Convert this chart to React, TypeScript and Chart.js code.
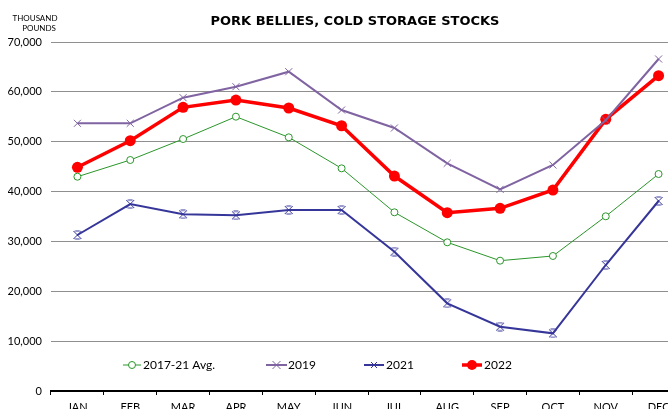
import React, { useEffect, useRef } from 'react';
import { Chart, registerables } from 'chart.js';

Chart.register(...registerables);

const TITLE = 'PORK BELLIES, COLD STORAGE STOCKS';
const UNIT_LINES = ['THOUSAND', 'POUNDS'];
const MONTHS = ['JAN', 'FEB', 'MAR', 'APR', 'MAY', 'JUN', 'JUL', 'AUG', 'SEP', 'OCT', 'NOV', 'DEC'];
const SERIES_NAMES = ['2017-21 Avg.', '2019', '2021', '2022'];
const AVG_2017_21 = [42980, 46330, 50540, 55020, 50880, 44660, 35840, 29820, 26140, 27080, 35040, 43520];
const Y2019 = [53690, 53690, 58830, 61030, 64040, 56360, 52750, 45670, 40450, 45330, 54300, 66590];
const Y2021 = [31290, 37500, 35440, 35230, 36300, 36300, 27940, 17590, 12900, 11570, 25270, 38110];
const Y2022 = [44870, 50200, 56900, 58360, 56760, 53200, 43120, 35760, 36640, 40310, 54490, 63240];
const Y_MIN = 0;
const Y_MAX = 70000;
const Y_STEP = 10000;

const GREEN = '#2a962a';
const PURPLE = '#8064a2';
const NAVY = '#36369a';
const RED = '#ff0000';

function makeStar(color: string, r: number): HTMLCanvasElement {
  const c = document.createElement('canvas');
  const s = r * 2 + 2;
  c.width = s;
  c.height = s;
  const g = c.getContext('2d')!;
  g.strokeStyle = color;
  g.lineWidth = 1;
  g.beginPath();
  g.moveTo(1, 1); g.lineTo(s - 1, s - 1);
  g.moveTo(s - 1, 1); g.lineTo(1, s - 1);
  g.moveTo(2.5, 1); g.lineTo(s - 2.5, 1);
  g.moveTo(2.5, s - 1); g.lineTo(s - 2.5, s - 1);
  g.stroke();
  return c;
}

function drawMarker(ctx: CanvasRenderingContext2D, kind: string, x: number, y: number, color: string) {
  ctx.save();
  ctx.strokeStyle = color;
  ctx.fillStyle = color;
  if (kind === 'openCircle') {
    ctx.beginPath();
    ctx.arc(x, y, 3.5, 0, Math.PI * 2);
    ctx.fillStyle = '#fff';
    ctx.fill();
    ctx.lineWidth = 1;
    ctx.stroke();
  } else if (kind === 'cross') {
    ctx.lineWidth = 1;
    ctx.beginPath();
    ctx.moveTo(x - 4, y - 4); ctx.lineTo(x + 4, y + 4);
    ctx.moveTo(x + 4, y - 4); ctx.lineTo(x - 4, y + 4);
    ctx.stroke();
  } else if (kind === 'star') {
    ctx.lineWidth = 1;
    ctx.beginPath();
    ctx.moveTo(x - 3, y - 3); ctx.lineTo(x + 3, y + 3);
    ctx.moveTo(x + 3, y - 3); ctx.lineTo(x - 3, y + 3);
    ctx.stroke();
  } else if (kind === 'dot') {
    ctx.beginPath();
    ctx.arc(x, y, 5, 0, Math.PI * 2);
    ctx.fill();
  }
  ctx.restore();
}

const overlayPlugin = {
  id: 'overlay',
  afterDraw(chart: any) {
    const ctx: CanvasRenderingContext2D = chart.ctx;
    ctx.save();
    ctx.fillStyle = '#000';
    ctx.textAlign = 'center';
    ctx.textBaseline = 'middle';
    ctx.font = 'bold 13px "DejaVu Sans"';
    ctx.fillText(TITLE, 355, 22);
    ctx.font = '8px Lato';
    ctx.fillText(UNIT_LINES[0], 35, 18);
    ctx.fillText(UNIT_LINES[1], 39, 28);

    const legendY = 365;
    const items = [
      { name: SERIES_NAMES[0], x1: 123, x2: 141, tx: 143, color: GREEN, w: 1, marker: 'openCircle' },
      { name: SERIES_NAMES[1], x1: 266, x2: 287, tx: 288, color: PURPLE, w: 2, marker: 'cross' },
      { name: SERIES_NAMES[2], x1: 364, x2: 384, tx: 386, color: NAVY, w: 2, marker: 'star' },
      { name: SERIES_NAMES[3], x1: 462, x2: 482, tx: 484, color: RED, w: 3.5, marker: 'dot' },
    ];
    ctx.font = '12px Lato';
    ctx.textAlign = 'left';
    for (const it of items) {
      ctx.strokeStyle = it.color;
      ctx.lineWidth = it.w;
      ctx.beginPath();
      ctx.moveTo(it.x1, legendY);
      ctx.lineTo(it.x2, legendY);
      ctx.stroke();
      drawMarker(ctx, it.marker, (it.x1 + it.x2) / 2, legendY, it.color);
      ctx.fillStyle = '#000';
      ctx.fillText(it.name, it.tx, legendY + 0.5);
    }
    ctx.restore();
  },
};

export default function App() {
  const ref = useRef<HTMLCanvasElement>(null);
  useEffect(() => {
    if (!ref.current) return;
    const star = makeStar(NAVY, 4);
    const chart = new Chart(ref.current, {
      type: 'line',
      data: {
        labels: MONTHS,
        datasets: [
          {
            label: SERIES_NAMES[0],
            data: AVG_2017_21,
            borderColor: GREEN,
            borderWidth: 1,
            pointStyle: 'circle',
            pointRadius: 3.5,
            pointBackgroundColor: '#fff',
            pointBorderColor: GREEN,
            pointBorderWidth: 1,
            tension: 0,
          },
          {
            label: SERIES_NAMES[1],
            data: Y2019,
            borderColor: PURPLE,
            borderWidth: 2,
            pointStyle: 'crossRot',
            pointRadius: 5,
            pointBorderColor: PURPLE,
            pointBorderWidth: 1,
            tension: 0,
          },
          {
            label: SERIES_NAMES[2],
            data: Y2021,
            borderColor: NAVY,
            borderWidth: 2,
            pointStyle: star as any,
            pointRadius: 4,
            tension: 0,
          },
          {
            label: SERIES_NAMES[3],
            data: Y2022,
            borderColor: RED,
            borderWidth: 3.5,
            pointStyle: 'circle',
            pointRadius: 5.5,
            pointBackgroundColor: RED,
            pointBorderColor: RED,
            pointBorderWidth: 0,
            tension: 0,
          },
        ],
      },
      options: {
        animation: false,
        responsive: true,
        maintainAspectRatio: false,
        layout: { padding: { left: 8, top: 42, right: 25, bottom: 0 } },
        plugins: {
          legend: { display: false },
          title: { display: false },
          tooltip: { enabled: false },
        },
        scales: {
          x: {
            offset: true,
            afterFit: (s: any) => { s.height = 29; },
            grid: {
              display: true,
              drawOnChartArea: false,
              drawTicks: true,
              tickLength: 4,
              color: '#000',
              offset: true,
            },
            border: { display: true, color: '#000', width: 2 },
            ticks: {
              color: '#000',
              font: { family: 'Lato', size: 11 },
              padding: 6,
              maxRotation: 0,
              autoSkip: false,
            },
          },
          y: {
            min: Y_MIN,
            max: Y_MAX,
            afterFit: (s: any) => { s.width = 43; },
            grid: { color: '#8f8f8f', lineWidth: 1, drawTicks: false },
            border: { display: false },
            ticks: {
              stepSize: Y_STEP,
              color: '#000',
              padding: 9,
              font: { family: 'Lato', size: 11 },
              callback: (v: any) => Number(v).toLocaleString('en-US'),
            },
          },
        },
      },
      plugins: [overlayPlugin],
    });
    return () => chart.destroy();
  }, []);

  return (
    <div style={{ position: 'fixed', left: 0, top: 0, width: 668, height: 409, overflow: 'hidden', background: '#fff' }}>
      <div style={{ position: 'relative', width: 710, height: 420 }}>
        <canvas ref={ref} />
      </div>
    </div>
  );
}
